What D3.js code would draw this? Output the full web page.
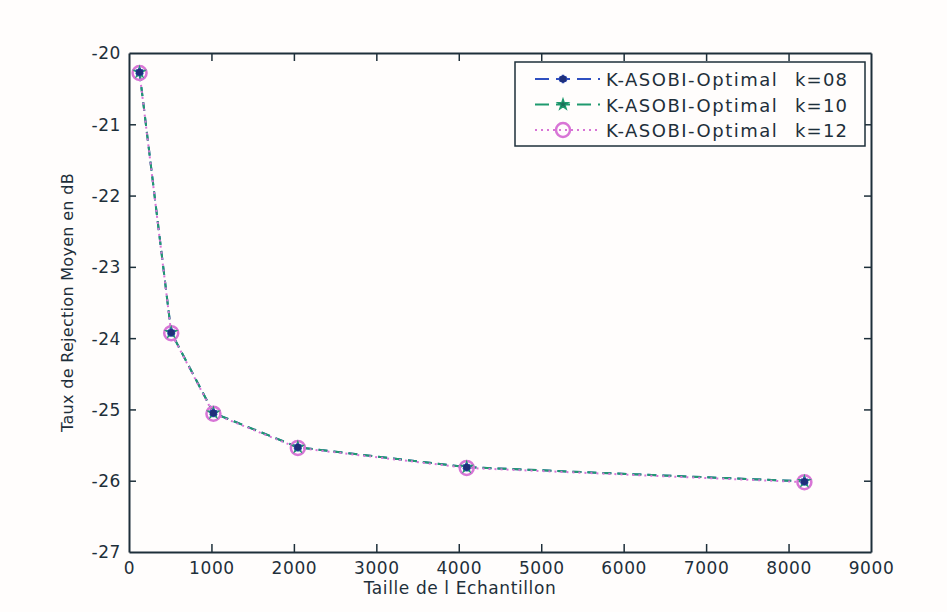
<!DOCTYPE html>
<html>
<head>
<meta charset="utf-8">
<script src="https://cdn.jsdelivr.net/npm/d3@7"></script>
<style>
  body { margin: 0; background: #fffdfc; }
  svg { display: block; }
  text { font-family: "DejaVu Sans", sans-serif; fill: #1e2f3a; }
</style>
</head>
<body>
<div id="chart"></div>
<script>
// sample sizes on the x axis
const sampleSizes = [128, 512, 1024, 2048, 4096, 8192];
// mean rejection rate (dB) for each k
const rejK08 = [-20.27, -23.92, -25.05, -25.53, -25.81, -26.01];
const rejK10 = [-20.27, -23.92, -25.05, -25.53, -25.81, -26.01];
const rejK12 = [-20.28, -23.93, -25.06, -25.54, -25.82, -26.02];
const seriesNames = ["K-ASOBI-Optimal", "K-ASOBI-Optimal", "K-ASOBI-Optimal"];
const seriesK = ["k=08", "k=10", "k=12"];
const xTicks = [0, 1000, 2000, 3000, 4000, 5000, 6000, 7000, 8000, 9000];
const yTicks = [-20, -21, -22, -23, -24, -25, -26, -27];

const width = 947, height = 612;
const margin = {top: 53, right: 76, bottom: 60, left: 129};
const w = width - margin.left - margin.right;
const h = height - margin.top - margin.bottom;
const axisColor = "#1e2f3a";

const svg = d3.select("#chart").append("svg")
    .attr("width", width)
    .attr("height", height);

const g = svg.append("g")
    .attr("transform", `translate(${margin.left},${margin.top})`);

const x = d3.scaleLinear().domain([0, 9000]).range([0, w]);
const y = d3.scaleLinear().domain([-27, -20]).range([h, 0]);

// plain hyphen for negatives
const fmt = d => String(d);

// axes, ticks pointing inwards like matlab
const xAxis = g.append("g")
    .attr("transform", `translate(0,${h})`)
    .call(d3.axisBottom(x).tickValues(xTicks).tickFormat(fmt)
        .tickSizeInner(-8).tickSizeOuter(0).tickPadding(10));
const yAxis = g.append("g")
    .call(d3.axisLeft(y).tickValues(yTicks).tickFormat(fmt)
        .tickSizeInner(-7).tickSizeOuter(0).tickPadding(8));
const xTop = g.append("g")
    .call(d3.axisTop(x).tickValues(xTicks).tickFormat("")
        .tickSizeInner(-8).tickSizeOuter(0));
const yRight = g.append("g")
    .attr("transform", `translate(${w},0)`)
    .call(d3.axisRight(y).tickValues(yTicks).tickFormat("")
        .tickSizeInner(-7).tickSizeOuter(0));

[xAxis, yAxis, xTop, yRight].forEach(a => {
    a.selectAll("path").attr("stroke", axisColor).attr("stroke-width", 2);
    a.selectAll("line").attr("stroke", axisColor).attr("stroke-width", 1.5);
    a.selectAll("text").attr("font-size", 17).attr("letter-spacing", 0.6)
        .attr("fill", axisColor).style("font-family", "DejaVu Sans, sans-serif");
});
// hide end ticks that sit on the frame
xAxis.selectAll(".tick").filter(d => d === 0 || d === 9000).select("line").remove();
yAxis.selectAll(".tick").filter(d => d === -20 || d === -27).select("line").remove();
xTop.selectAll(".tick").filter(d => d === 0 || d === 9000).select("line").remove();
yRight.selectAll(".tick").filter(d => d === -20 || d === -27).select("line").remove();
yAxis.selectAll("text").attr("dy", "0.35em");

// axis labels
g.append("text")
    .attr("x", w / 2 - 40)
    .attr("y", h + 42)
    .attr("text-anchor", "middle")
    .attr("font-size", 17)
    .attr("letter-spacing", 0.6)
    .text("Taille de l Echantillon");

g.append("text")
    .attr("transform", `translate(${-56},${h / 2}) rotate(-90)`)
    .attr("text-anchor", "middle")
    .attr("font-size", 16)
    .attr("letter-spacing", 0.3)
    .text("Taux de Rejection Moyen en dB");

const series = [
    {vals: rejK08, color: "#2f4fc0", dash: "9,6", marker: "star"},
    {vals: rejK10, color: "#1f9a6e", dash: "9,6", marker: "hex"},
    {vals: rejK12, color: "#d875d6", dash: "2,4", marker: "circle"}
];

const line = d3.line()
    .x((d, i) => x(sampleSizes[i]))
    .y(d => y(d));

function drawMarker(sel, type, color) {
    if (type === "circle") {
        sel.append("circle").attr("r", 7)
            .attr("fill", "none").attr("stroke", color).attr("stroke-width", 2.5);
    } else if (type === "hex") {
        sel.append("path")
            .attr("d", d3.symbol(d3.symbolStar, 38)())
            .attr("fill", "#1d6f5a").attr("stroke", color).attr("stroke-width", 1.2);
    } else {
        sel.append("path")
            .attr("d", d3.symbol(d3.symbolAsterisk, 50)())
            .attr("fill", "none").attr("stroke", color).attr("stroke-width", 2.5);
        sel.append("circle").attr("r", 3.5).attr("fill", "#1f2f7a");
    }
}

series.forEach(s => {
    g.append("path")
        .datum(s.vals)
        .attr("fill", "none")
        .attr("stroke", s.color)
        .attr("stroke-width", 2)
        .attr("stroke-dasharray", s.dash)
        .attr("d", line);
});

// markers: circles first, then hexagrams and stars on top
[series[2], series[1], series[0]].forEach(s => {
    s.vals.forEach((v, i) => {
        const m = g.append("g")
            .attr("transform", `translate(${x(sampleSizes[i])},${y(v)})`);
        drawMarker(m, s.marker, s.color);
    });
});

// legend
const legend = svg.append("g").attr("transform", "translate(515,62)");
legend.append("rect")
    .attr("width", 350)
    .attr("height", 84)
    .attr("fill", "#fffdfc")
    .attr("stroke", axisColor)
    .attr("stroke-width", 1.5);

series.forEach((s, i) => {
    const row = legend.append("g").attr("transform", `translate(0,${17 + i * 25.5})`);
    row.append("line")
        .attr("x1", 20).attr("x2", 85)
        .attr("stroke", s.color).attr("stroke-width", 2)
        .attr("stroke-dasharray", s.dash === "2,4" ? "2,4" : "14,7");
    const m = row.append("g").attr("transform", "translate(48,0)");
    drawMarker(m, s.marker, s.color);
    row.append("text")
        .attr("x", 91).attr("y", 7)
        .attr("font-size", 18)
        .attr("letter-spacing", 1.5)
        .text(seriesNames[i]);
    row.append("text")
        .attr("x", 280).attr("y", 7)
        .attr("font-size", 18)
        .attr("letter-spacing", 1.2)
        .text(seriesK[i]);
});
</script>
</body>
</html>
